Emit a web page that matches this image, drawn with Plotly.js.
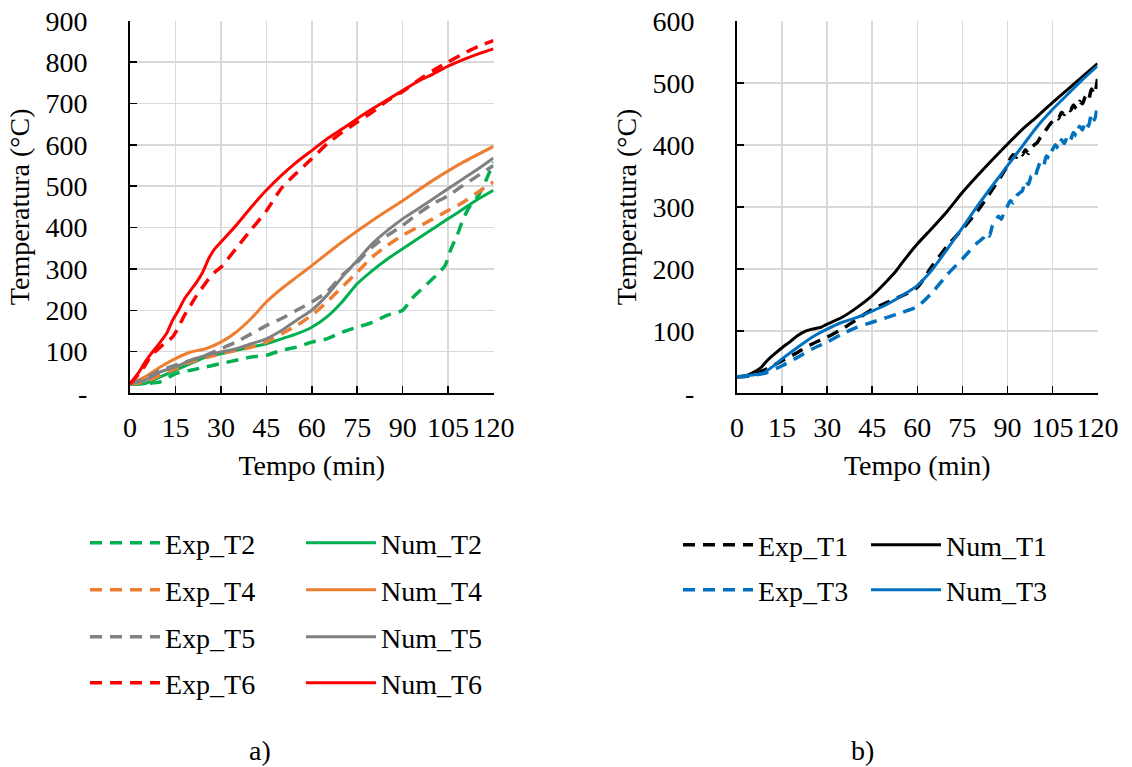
<!DOCTYPE html>
<html>
<head>
<meta charset="utf-8">
<script src="https://cdn.plot.ly/plotly-3.0.1.min.js"></script>
<style>
svg text { font-family: 'Liberation Serif', 'Times New Roman', serif !important; }
</style>
</head>
<body style="margin:0">
<div id="chart" style="width:1132px;height:767px"></div>
<script>
// ---------- Data ----------
const xTicks = [0, 15, 30, 45, 60, 75, 90, 105, 120];
const yTicksA = [0, 100, 200, 300, 400, 500, 600, 700, 800, 900];
const yTickTextA = ["-", "100", "200", "300", "400", "500", "600", "700", "800", "900"];
const yTicksB = [0, 100, 200, 300, 400, 500, 600];
const yTickTextB = ["-", "100", "200", "300", "400", "500", "600"];

// Plot a)
const tNumT6 = [0,3,5,7,10,12,14,16,18,20,22,24,26,28,30,35,40,45,50,55,60,65,70,75,80,85,90,95,100,105,110,115,120];
const numT6  = [22,51,75,95,123,143,175,200,228,248,268,292,325,349,365,405,449,490,526,558,586,614,638,663,687,709,731,753,771,790,806,820,832];
const tExpT6 = [0,3,5,7,10,12,14,16,18,20,22,24,26,28,30,35,40,45,50,55,60,65,70,75,80,85,90,95,100,105,110,115,120];
const expT6  = [22,47,67,91,111,123,135,159,188,212,236,256,276,292,304,349,395,440,495,532,566,602,630,655,679,707,729,755,779,800,820,838,852];

const tNumT4 = [0,5,10,15,20,25,30,35,40,43,45,50,55,60,70,80,90,100,110,120];
const numT4  = [22,39,63,83,99,107,123,147,180,204,220,252,280,308,365,417,465,514,558,596];
const tExpT4 = [0,5,10,15,20,30,40,45,50,55,60,65,70,75,80,85,90,95,100,105,110,115,120];
const expT4  = [22,27,43,59,75,95,111,123,143,163,188,220,256,292,329,357,381,401,421,441,461,486,510];

const tNumT5 = [0,5,10,15,20,25,30,35,40,45,50,55,60,65,70,75,80,85,90,95,100,105,110,115,120];
const numT5  = [22,31,51,63,79,91,99,107,119,131,151,176,200,236,280,320,361,393,421,445,469,494,518,542,568];
const tExpT5 = [0,5,10,15,20,25,30,35,40,45,50,55,60,65,70,75,80,85,90,95,100,105,110,115,120];
const expT5  = [22,35,55,67,79,91,107,123,143,163,180,200,220,244,284,316,353,381,405,433,457,477,502,526,550];

const tNumT2 = [0,5,10,15,20,25,30,35,40,45,50,55,60,65,70,75,80,85,90,95,100,105,110,115,120];
const numT2  = [22,23,39,55,71,87,95,103,111,119,131,143,159,184,220,264,296,324,349,373,397,421,445,469,490];
const tExpT2 = [0,5,10,15,20,25,30,40,45,50,55,60,65,70,75,80,85,90,93,97,101,104,106,108,110,112,115,118,120];
const expT2  = [22,23,27,47,55,63,71,87,91,103,111,123,131,147,159,171,188,200,228,256,284,308,349,381,421,449,477,522,558];

// Plot b)
const tNumT1 = [0,3,5,8,10,13,15,18,20,23,25,28,30,35,40,45,50,53,55,60,65,70,75,80,85,90,95,100,105,110,115,120];
const numT1  = [26,28,32,41,52,65,73,84,92,100,103,106,111,122,138,157,181,197,210,240,266,293,323,350,376,401,425,446,468,489,510,531];
const tNumT3 = [0,5,8,10,13,15,20,25,30,35,40,45,50,55,60,65,70,75,80,85,90,95,100,105,110,115,120];
const numT3  = [26,29,31,36,47,55,73,90,103,114,122,132,143,157,173,199,232,266,301,334,366,398,430,457,481,505,527];

const tExpT1 = [0,5,10,15,20,25,30,35,40,45,50,55,60,65,70,75,80,85,88,90,91,92,93,94,95,96,97,98,99,100,101,102,103,104,105,106,107,108,109,110,111,112,113,114,115,116,117,118,119,120];
const expT1  = [26,28,39,52,65,79,90,103,119,135,146,157,170,205,237,264,293,328,350,366,378,384,380,388,384,392,386,395,400,404,412,418,425,432,438,445,442,452,449,458,455,464,458,470,466,478,472,490,482,506];
const tExpT3 = [0,5,10,15,20,25,30,35,40,45,50,55,60,65,70,75,80,82,83,84,85,86,87,88,89,90,91,92,93,94,95,96,97,98,99,100,101,102,103,104,105,106,107,108,109,110,111,112,113,114,115,116,117,118,119,120];
const expT3  = [26,28,33,44,57,71,82,95,106,114,122,130,139,162,191,216,242,250,258,253,269,276,285,280,294,301,310,306,318,322,326,342,336,350,346,360,372,366,382,378,392,400,394,408,402,414,408,420,414,430,424,438,430,450,440,465];

// ---------- Styling ----------
const C = {green:'#00B050', orange:'#ED7D31', gray:'#808080', red:'#FF0000', black:'#000000', blue:'#0070C0'};
const DASH = '12px,8px';
function F(size) { return {family: 'Liberation Serif', size: size, color: '#000'}; }

function tr(x, y, name, color, dashed, xa, ya, legend) {
  return {
    x: x, y: y, name: name, type: 'scatter', mode: 'lines',
    xaxis: xa, yaxis: ya, legend: legend,
    line: {color: color, width: dashed ? 3.5 : 3, dash: dashed ? DASH : 'solid', shape: 'spline', smoothing: 0.6},
    hoverinfo: 'skip'
  };
}

const traces = [
  tr(tExpT2, expT2, 'Exp_T2', C.green, true, 'x', 'y', 'legend'),
  tr(tNumT2, numT2, 'Num_T2', C.green, false, 'x', 'y', 'legend'),
  tr(tExpT4, expT4, 'Exp_T4', C.orange, true, 'x', 'y', 'legend2'),
  tr(tNumT4, numT4, 'Num_T4', C.orange, false, 'x', 'y', 'legend2'),
  tr(tExpT5, expT5, 'Exp_T5', C.gray, true, 'x', 'y', 'legend3'),
  tr(tNumT5, numT5, 'Num_T5', C.gray, false, 'x', 'y', 'legend3'),
  tr(tExpT6, expT6, 'Exp_T6', C.red, true, 'x', 'y', 'legend4'),
  tr(tNumT6, numT6, 'Num_T6', C.red, false, 'x', 'y', 'legend4'),
  tr(tExpT1, expT1, 'Exp_T1', C.black, true, 'x2', 'y2', 'legend5'),
  tr(tNumT1, numT1, 'Num_T1', C.black, false, 'x2', 'y2', 'legend5'),
  tr(tExpT3, expT3, 'Exp_T3', C.blue, true, 'x2', 'y2', 'legend6'),
  tr(tNumT3, numT3, 'Num_T3', C.blue, false, 'x2', 'y2', 'legend6')
];

const W = 1132, H = 767;
const px = v => v / W;
const py = v => (H - v) / H;

function xAxis(domain, anchor) {
  return {
    domain: domain, anchor: anchor, range: [0, 120],
    tickmode: 'array', tickvals: xTicks,
    ticks: 'inside', ticklen: 7, tickwidth: 1.5, tickcolor: '#000',
    showline: true, linewidth: 2, linecolor: '#000',
    showgrid: true, gridcolor: '#D9D9D9', gridwidth: 1.5, zeroline: false,
    tickfont: F(28),
    ticklabelstandoff: 8,
    automargin: false,
    title: {text: 'Tempo (min)', font: F(28), standoff: 14},
    fixedrange: true
  };
}
function yAxis(domain, anchor, range, vals, text) {
  return {
    domain: domain, anchor: anchor, range: range,
    tickmode: 'array', tickvals: vals, ticktext: text,
    ticks: 'inside', ticklen: 7, tickwidth: 1.5, tickcolor: '#000',
    showline: true, linewidth: 2, linecolor: '#000',
    showgrid: true, gridcolor: '#D9D9D9', gridwidth: 1.5, zeroline: false,
    tickfont: F(28),
    ticklabelstandoff: 35,
    automargin: false,
    title: {text: 'Temperatura (°C)', font: F(28), standoff: 8},
    fixedrange: true
  };
}

function leg(xpx, ypx, ew) {
  return {
    orientation: 'h', x: px(xpx), y: py(ypx), xanchor: 'left', yanchor: 'middle',
    font: F(28),
    itemwidth: 70, entrywidth: ew, entrywidthmode: 'pixels',
    bgcolor: 'rgba(0,0,0,0)', borderwidth: 0, traceorder: 'normal'
  };
}

const yDom = [py(393), py(20.7)];
const layout = {
  width: W, height: H,
  margin: {l: 0, r: 0, t: 0, b: 0},
  showlegend: true,
  xaxis: xAxis([px(130), px(493.5)], 'y'),
  yaxis: yAxis(yDom, 'x', [0, 900], yTicksA, yTickTextA),
  xaxis2: xAxis([px(737), px(1097.5)], 'y2'),
  yaxis2: yAxis(yDom, 'x2', [0, 600], yTicksB, yTickTextB),
  legend: leg(85, 543, 131),
  legend2: leg(85, 590, 131),
  legend3: leg(85, 637, 131),
  legend4: leg(85, 683, 131),
  legend5: leg(678, 545, 103),
  legend6: leg(678, 590, 103),
  annotations: [
    {text: 'a)', x: px(259.5), y: py(750), xref: 'paper', yref: 'paper', showarrow: false,
     font: F(28), xanchor: 'center', yanchor: 'middle'},
    {text: 'b)', x: px(862), y: py(750), xref: 'paper', yref: 'paper', showarrow: false,
     font: F(28), xanchor: 'center', yanchor: 'middle'}
  ]
};

Plotly.newPlot('chart', traces, layout, {staticPlot: true});
</script>
</body>
</html>
